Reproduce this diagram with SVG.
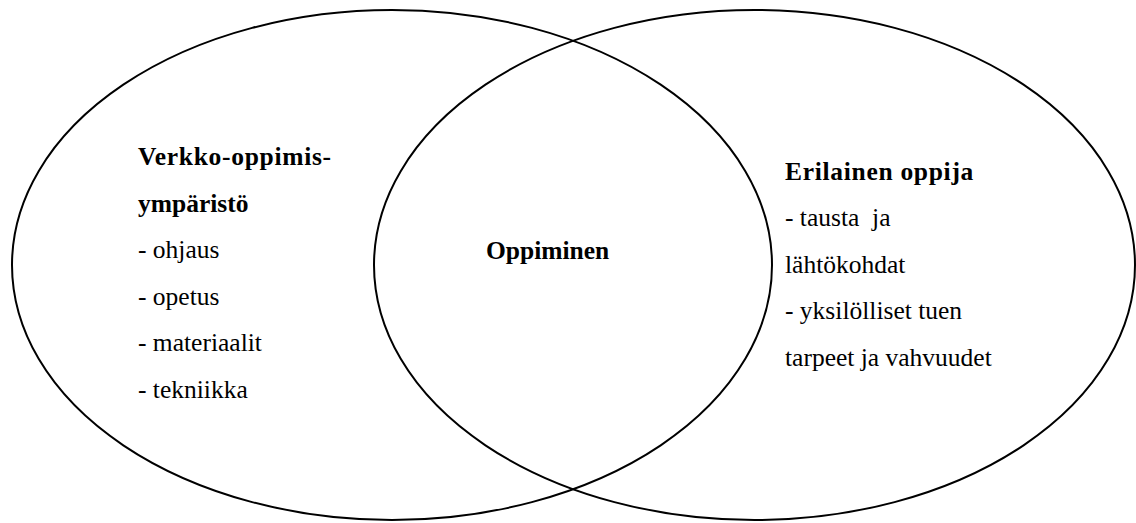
<svg xmlns="http://www.w3.org/2000/svg" width="1136" height="523" viewBox="0 0 1136 523" font-family="Liberation Serif, Tinos, Times New Roman, DejaVu Serif, serif" font-size="25.5">
<style>
.e{fill:none;stroke:#000;stroke-width:2}
.b{font-weight:bold}
.w{letter-spacing:0.7px}
</style>
<rect width="1136" height="523" fill="#fff"/>
<g id="left-circle">
<ellipse class="e" cx="392" cy="265" rx="380" ry="255"/>
<text class="b w" x="138" y="165">Verkko-oppimis-</text>
<text class="b" x="138" y="211.6">ympäristö</text>
<text x="138" y="258.2">- ohjaus</text>
<text x="138" y="304.8">- opetus</text>
<text x="138" y="351.4">- materiaalit</text>
<text x="138" y="398">- tekniikka</text>
</g>
<g id="right-circle">
<ellipse class="e" cx="754.5" cy="265" rx="380.5" ry="255"/>
<text class="b w" x="785" y="179.5">Erilainen oppija</text>
<text x="785" y="226" xml:space="preserve">- tausta  ja</text>
<text x="785" y="272.5">lähtökohdat</text>
<text x="785" y="319">- yksilölliset tuen</text>
<text x="785" y="365.5">tarpeet ja vahvuudet</text>
</g>
<g id="center">
<text class="b" x="486" y="259">Oppiminen</text>
</g>
<g id="connectors"/>
</svg>
